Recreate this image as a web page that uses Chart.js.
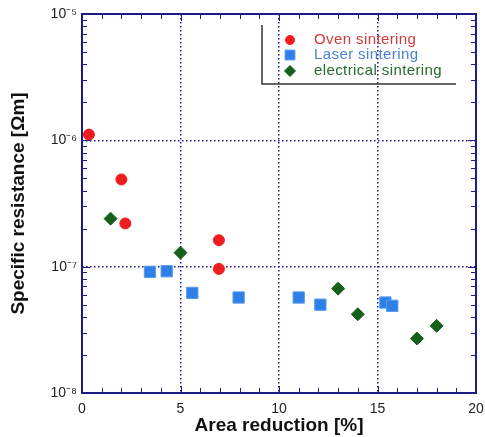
<!DOCTYPE html>
<html>
<head>
<meta charset="utf-8">
<script src="https://cdn.jsdelivr.net/npm/chart.js@4.4.0/dist/chart.umd.min.js"></script>
<style>
  body { margin: 0; background: #fff; }
  #wrap { width: 485px; height: 437px; position: relative; }
</style>
</head>
<body>
<div id="wrap"><canvas id="chart"></canvas></div>
<script>
// data
var ovenX  = [0.35, 2.0, 2.2, 6.95, 6.95];
var ovenY  = [1.11e-6, 4.9e-7, 2.2e-7, 1.62e-7, 0.96e-7];
var laserX = [3.45, 4.3, 5.6, 7.95, 11.0, 12.1, 15.4, 15.75];
var laserY = [9.1e-8, 9.2e-8, 6.2e-8, 5.7e-8, 5.7e-8, 5.0e-8, 5.2e-8, 4.9e-8];
var elecX  = [1.45, 5.0, 13.0, 14.0, 17.0, 18.0];
var elecY  = [2.4e-7, 1.29e-7, 6.7e-8, 4.2e-8, 2.7e-8, 3.4e-8];

var xTicks = [0, 5, 10, 15, 20];
var yTicks = [1e-8, 1e-7, 1e-6, 1e-5];
var yLabels = ['10\u207B\u2078', '10\u207B\u2077', '10\u207B\u2076', '10\u207B\u2075'];

var navy = '#1c1c86';
var font = '"Liberation Sans", Arial, sans-serif';

function pts(xs, ys) {
  var out = [];
  for (var i = 0; i < xs.length; i++) out.push({x: xs[i], y: ys[i]});
  return out;
}

// frame, inward ticks and legend box
var frame = {
  id: 'frame',
  afterDatasetsDraw: function(chart) {
    var ctx = chart.ctx, ca = chart.chartArea;
    var xs = chart.scales.x, ys = chart.scales.y;
    ctx.save();
    ctx.strokeStyle = navy;
    ctx.lineWidth = 1;
    ctx.beginPath();
    for (var i = 0; i <= 20; i++) {
      var px = Math.round(xs.getPixelForValue(i)) + 0.5;
      var len = (i % 5 == 0) ? 7 : 5;
      ctx.moveTo(px, ca.bottom); ctx.lineTo(px, ca.bottom - len);
      ctx.moveTo(px, ca.top); ctx.lineTo(px, ca.top + len);
    }
    for (var d = -8; d <= -6; d++) {
      for (var m = 1; m <= 9; m++) {
        var py = Math.round(ys.getPixelForValue(m * Math.pow(10, d))) + 0.5;
        var l = (m == 1) ? 8 : 5;
        ctx.moveTo(ca.left, py); ctx.lineTo(ca.left + l, py);
        ctx.moveTo(ca.right, py); ctx.lineTo(ca.right - l, py);
      }
    }
    ctx.stroke();
    ctx.lineWidth = 2;
    ctx.strokeRect(ca.left, ca.top, ca.right - ca.left, ca.bottom - ca.top);

    // legend
    ctx.strokeStyle = '#333';
    ctx.lineWidth = 1.5;
    ctx.beginPath();
    ctx.moveTo(262, 25); ctx.lineTo(262, 84); ctx.lineTo(456, 84);
    ctx.stroke();
    var rowY = [40, 55, 71];
    var txtCol = ['#d23a3a', '#4a7fd6', '#256b2a'];
    ctx.font = '15px ' + font;
    ctx.letterSpacing = '0.4px';
    ctx.textBaseline = 'middle';
    chart.data.datasets.forEach(function(ds, k) {
      ctx.fillStyle = ds.backgroundColor;
      ctx.strokeStyle = ds.borderColor;
      ctx.lineWidth = 1;
      Chart.helpers.drawPoint(ctx, {pointStyle: ds.pointStyle, radius: ds.pointRadius - 1, rotation: 0, borderWidth: 1}, 290, rowY[k]);
      ctx.fillStyle = txtCol[k];
      ctx.fillText(ds.label, 314, rowY[k]);
    });
    ctx.restore();
  }
};

new Chart(document.getElementById('chart'), {
  type: 'scatter',
  data: {
    datasets: [
      {
        label: 'Oven sintering',
        data: pts(ovenX, ovenY),
        pointStyle: 'circle',
        pointRadius: 5.5,
        backgroundColor: '#ee1c1c',
        borderColor: '#ee1c1c'
      },
      {
        label: 'Laser sintering',
        data: pts(laserX, laserY),
        pointStyle: 'rect',
        pointRadius: 8,
        backgroundColor: '#2f7fe8',
        borderColor: '#5b9cf0'
      },
      {
        label: 'electrical sintering',
        data: pts(elecX, elecY),
        pointStyle: 'rectRot',
        pointRadius: 6.5,
        backgroundColor: '#15601b',
        borderColor: '#15601b'
      }
    ]
  },
  options: {
    responsive: true,
    maintainAspectRatio: false,
    animation: false,
    layout: { padding: { top: 14, right: 5, left: 0, bottom: 0 } },
    plugins: { legend: { display: false }, tooltip: { enabled: false } },
    scales: {
      x: {
        type: 'linear', min: 0, max: 20,
        afterBuildTicks: function(s) { s.ticks = xTicks.map(function(v) { return {value: v}; }); },
        afterFit: function(s) { s.height = 44; s.paddingLeft = 0; s.paddingRight = 0; },
        grid: {
          drawTicks: false,
          color: function(c) { return (c.tick && c.tick.value > 0 && c.tick.value < 20) ? navy : 'rgba(0,0,0,0)'; },
          lineWidth: 1.5
        },
        border: { display: false, dash: [1.5, 2.5] },
        ticks: { padding: 8, color: '#222', font: { family: font, size: 14 } },
        title: { display: true, text: 'Area reduction [%]', color: '#111', padding: { top: 0, bottom: 0 }, font: { family: font, size: 19, weight: 'bold' } }
      },
      y: {
        type: 'logarithmic', min: 1e-8, max: 1e-5,
        afterBuildTicks: function(s) { s.ticks = yTicks.map(function(v) { return {value: v}; }); },
        afterFit: function(s) { s.width = 82; s.paddingTop = 0; s.paddingBottom = 0; },
        grid: {
          drawTicks: false,
          color: function(c) { return (c.tick && c.tick.value > 1.5e-8 && c.tick.value < 5e-6) ? navy : 'rgba(0,0,0,0)'; },
          lineWidth: 1.5
        },
        border: { display: false, dash: [1.5, 2.5] },
        ticks: {
          padding: 5, color: '#222', font: { family: font, size: 14 },
          callback: function(v) { var i = yTicks.indexOf(v); return i >= 0 ? yLabels[i] : ''; }
        },
        title: { display: true, text: 'Specific resistance [\u03A9m]', color: '#111', padding: { top: 7, bottom: 0 }, font: { family: font, size: 19, weight: 'bold' } }
      }
    }
  },
  plugins: [frame]
});
</script>
</body>
</html>
